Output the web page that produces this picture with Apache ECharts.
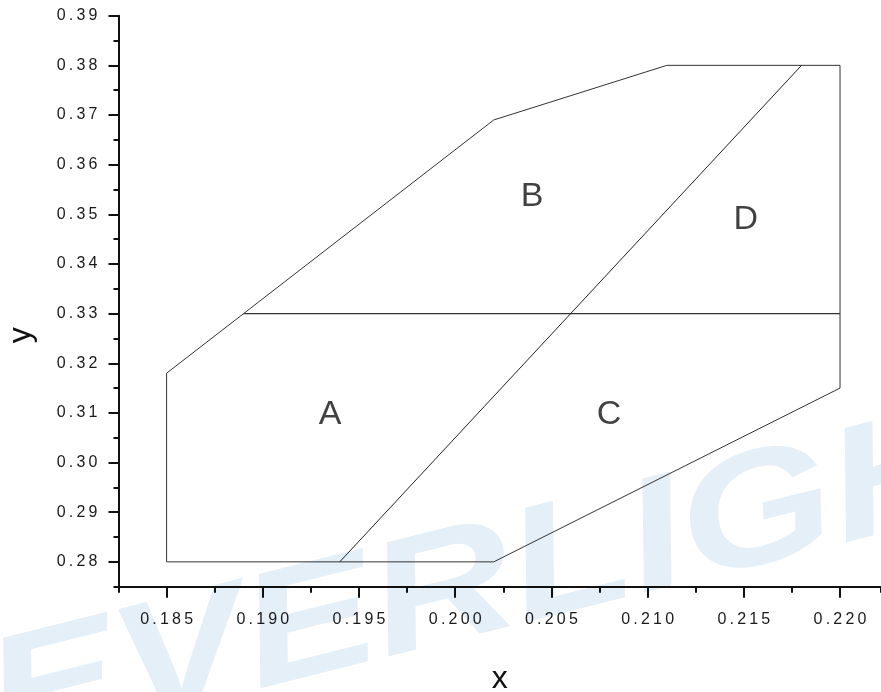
<!DOCTYPE html>
<html>
<head>
<meta charset="utf-8">
<script src="https://cdn.jsdelivr.net/npm/echarts@6/dist/echarts.min.js"></script>
<style>
html,body{margin:0;padding:0;background:#fff;}
#chart{width:881px;height:692px;}
</style>
</head>
<body>
<div id="chart"></div>
<script>
// ---- data ----
var outlineX = [0.185, 0.185, 0.189, 0.202, 0.211, 0.220, 0.220, 0.202, 0.185];
var outlineY = [0.280, 0.318, 0.330, 0.369, 0.380, 0.380, 0.315, 0.280, 0.280];
var hLineX = [0.189, 0.220];
var hLineY = [0.330, 0.330];
var diagX = [0.194, 0.218];
var diagY = [0.280, 0.380];
var regionNames = ['A', 'B', 'C', 'D'];
var regionX = [0.1935, 0.2040, 0.2080, 0.2151];
var regionY = [0.3097, 0.3536, 0.3097, 0.3490];
var xTickLabels = [0.185, 0.190, 0.195, 0.200, 0.205, 0.210, 0.215, 0.220];
var yTickLabels = [0.28, 0.29, 0.30, 0.31, 0.32, 0.33, 0.34, 0.35, 0.36, 0.37, 0.38, 0.39];
var xName = 'x';
var yName = 'y';
var watermarkText = 'EVERLIGHT';

function zip(a, b) { return a.map(function (v, i) { return [v, b[i]]; }); }
function spaced(s) { return s.split('').join('\u2009'); }

var FONT = '"Liberation Sans", Arial, sans-serif';
var chart = echarts.init(document.getElementById('chart'), null, {renderer: 'canvas'});

var xMin = 0.1825, xMax = 0.22213, yMin = 0.275, yMax = 0.39;

var option = {
  animation: false,
  backgroundColor: '#fff',
  graphic: [{
    type: 'text',
    z: -10,
    x: 10,
    y: 788,
    rotation: 14 * Math.PI / 180,
    scaleX: 1.04,
    scaleY: 0.85,
    silent: true,
    style: {
      text: watermarkText,
      font: 'italic bold 190px ' + FONT,
      fill: '#e5eff8',
      textAlign: 'left',
      textVerticalAlign: 'bottom'
    }
  }],
  grid: {left: 118.5, top: 15.7, bottom: 105.3, right: 0, containLabel: false, outerBoundsMode: 'none'},
  xAxis: [{
    type: 'value', min: xMin, max: xMax,
    name: xName, nameLocation: 'middle', nameGap: 76,
    nameTextStyle: {fontFamily: FONT, fontSize: 32, color: '#111'},
    axisLine: {show: true, onZero: false, lineStyle: {color: '#111', width: 2}},
    axisTick: {show: true, length: 11, lineStyle: {color: '#111', width: 2}, customValues: xTickLabels},
    axisLabel: {show: true, margin: 25, fontFamily: FONT, fontSize: 16, color: '#1a1a1a',
      customValues: xTickLabels,
      formatter: function (v) { return spaced(v.toFixed(3)); }},
    splitLine: {show: false}
  }, {
    type: 'value', min: xMin, max: xMax, interval: 0.0025, position: 'bottom',
    axisLine: {show: false, onZero: false},
    axisTick: {show: true, length: 6, lineStyle: {color: '#111', width: 2}},
    axisLabel: {show: false},
    splitLine: {show: false}
  }],
  yAxis: [{
    type: 'value', min: yMin, max: yMax,
    name: yName, nameLocation: 'middle', nameGap: 81, nameRotate: 90,
    nameTextStyle: {fontFamily: FONT, fontSize: 32, color: '#111', padding: [0, 68, 0, 0]},
    axisLine: {show: true, onZero: false, lineStyle: {color: '#111', width: 2}},
    axisTick: {show: true, length: 10, lineStyle: {color: '#111', width: 2}, customValues: yTickLabels},
    axisLabel: {show: true, margin: 21, fontFamily: FONT, fontSize: 16, color: '#1a1a1a',
      customValues: yTickLabels,
      formatter: function (v) { return spaced(v.toFixed(2)); }},
    splitLine: {show: false}
  }, {
    type: 'value', min: yMin, max: yMax, interval: 0.005, position: 'left',
    axisLine: {show: false, onZero: false},
    axisTick: {show: true, length: 5, lineStyle: {color: '#111', width: 2}},
    axisLabel: {show: false},
    splitLine: {show: false}
  }],
  series: [{
    type: 'line', xAxisIndex: 0, yAxisIndex: 0, data: zip(outlineX, outlineY),
    showSymbol: false, symbol: 'none', silent: true,
    lineStyle: {color: '#333', width: 1}
  }, {
    type: 'line', xAxisIndex: 0, yAxisIndex: 0, data: zip(hLineX, hLineY),
    showSymbol: false, symbol: 'none', silent: true,
    lineStyle: {color: '#333', width: 1.2}
  }, {
    type: 'line', xAxisIndex: 0, yAxisIndex: 0, data: zip(diagX, diagY),
    showSymbol: false, symbol: 'none', silent: true,
    lineStyle: {color: '#222', width: 1}
  }, {
    type: 'scatter', xAxisIndex: 0, yAxisIndex: 0,
    data: regionNames.map(function (n, i) { return {name: n, value: [regionX[i], regionY[i]]}; }),
    symbolSize: 1, itemStyle: {color: 'rgba(0,0,0,0)'}, silent: true,
    label: {show: true, position: 'inside', formatter: function (p) { return p.name; },
      fontFamily: FONT, fontSize: 34, color: '#111'}
  }]
};
chart.setOption(option);
</script>
</body>
</html>
